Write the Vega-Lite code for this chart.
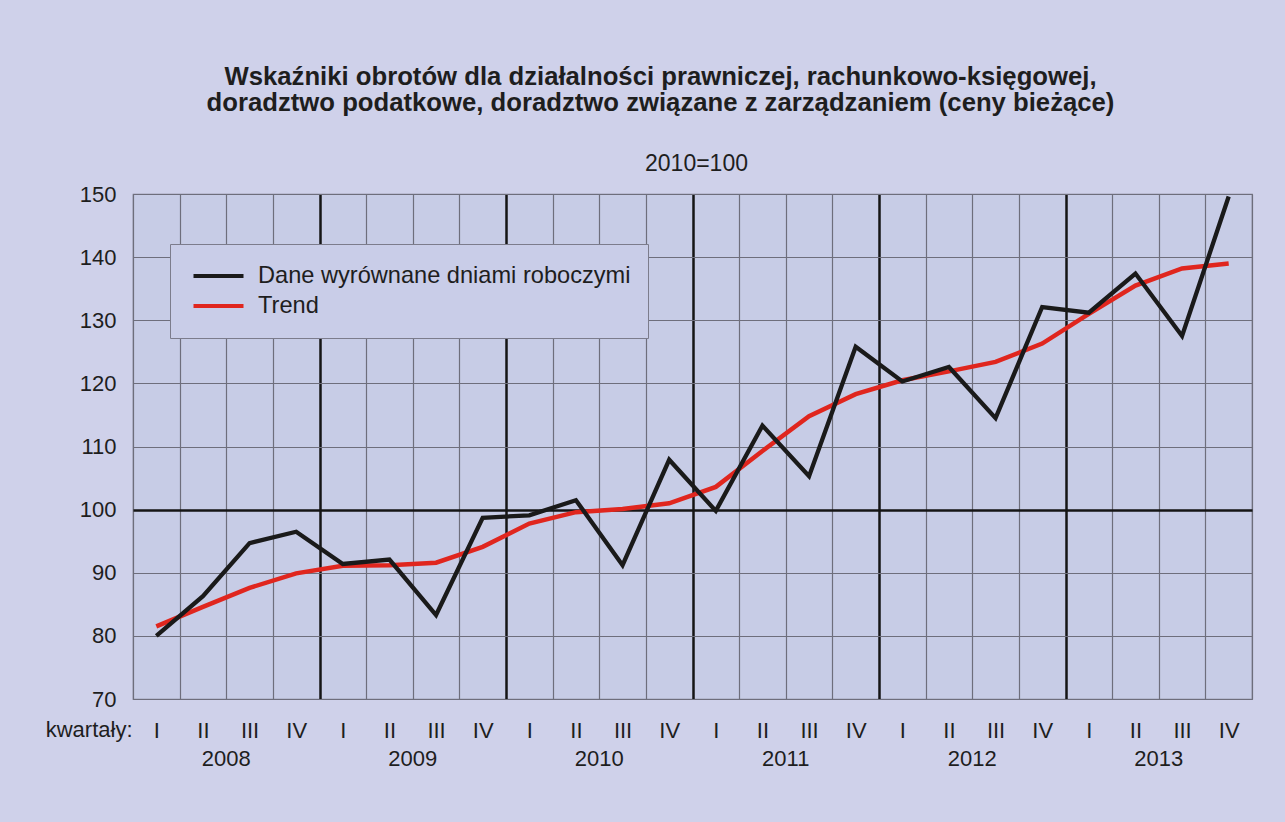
{
  "$schema": "https://vega.github.io/schema/vega-lite/v6.json",
  "width": 1119,
  "height": 505,
  "autosize": "none",
  "padding": {"left": 133, "top": 194, "right": 33, "bottom": 123},
  "background": "#cfd1ea",
  "title": {
    "text": ["Wskaźniki obrotów dla działalności prawniczej, rachunkowo-księgowej,", "doradztwo podatkowe, doradztwo związane z zarządzaniem (ceny bieżące)"],
    "font": "Liberation Sans",
    "fontSize": 25.7,
    "fontWeight": "bold",
    "color": "#1e1e1e",
    "lineHeight": 26,
    "anchor": "middle",
    "dx": -32,
    "offset": 35
  },
  "config": {
    "view": {"fill": "#c7cce6", "stroke": "#7c7c8c", "strokeWidth": 1.2},
    "axis": {"labelFont": "Liberation Sans", "titleFont": "Liberation Sans", "labelColor": "#1e1e1e", "titleColor": "#1e1e1e"}
  },
  "data": {
    "values": [
      {"okres": "2008 I", "seria": "Trend", "wartosc": 81.5},
      {"okres": "2008 II", "seria": "Trend", "wartosc": 84.6},
      {"okres": "2008 III", "seria": "Trend", "wartosc": 87.6},
      {"okres": "2008 IV", "seria": "Trend", "wartosc": 89.9},
      {"okres": "2009 I", "seria": "Trend", "wartosc": 91.1},
      {"okres": "2009 II", "seria": "Trend", "wartosc": 91.2},
      {"okres": "2009 III", "seria": "Trend", "wartosc": 91.6},
      {"okres": "2009 IV", "seria": "Trend", "wartosc": 94.1},
      {"okres": "2010 I", "seria": "Trend", "wartosc": 97.8},
      {"okres": "2010 II", "seria": "Trend", "wartosc": 99.6},
      {"okres": "2010 III", "seria": "Trend", "wartosc": 100.1},
      {"okres": "2010 IV", "seria": "Trend", "wartosc": 101.0},
      {"okres": "2011 I", "seria": "Trend", "wartosc": 103.6},
      {"okres": "2011 II", "seria": "Trend", "wartosc": 109.3},
      {"okres": "2011 III", "seria": "Trend", "wartosc": 114.8},
      {"okres": "2011 IV", "seria": "Trend", "wartosc": 118.3},
      {"okres": "2012 I", "seria": "Trend", "wartosc": 120.5},
      {"okres": "2012 II", "seria": "Trend", "wartosc": 121.9},
      {"okres": "2012 III", "seria": "Trend", "wartosc": 123.4},
      {"okres": "2012 IV", "seria": "Trend", "wartosc": 126.3},
      {"okres": "2013 I", "seria": "Trend", "wartosc": 131.0},
      {"okres": "2013 II", "seria": "Trend", "wartosc": 135.5},
      {"okres": "2013 III", "seria": "Trend", "wartosc": 138.2},
      {"okres": "2013 IV", "seria": "Trend", "wartosc": 139.0},
      {"okres": "2008 I", "seria": "Dane wyrównane dniami roboczymi", "wartosc": 80.0},
      {"okres": "2008 II", "seria": "Dane wyrównane dniami roboczymi", "wartosc": 86.3},
      {"okres": "2008 III", "seria": "Dane wyrównane dniami roboczymi", "wartosc": 94.7},
      {"okres": "2008 IV", "seria": "Dane wyrównane dniami roboczymi", "wartosc": 96.5},
      {"okres": "2009 I", "seria": "Dane wyrównane dniami roboczymi", "wartosc": 91.4},
      {"okres": "2009 II", "seria": "Dane wyrównane dniami roboczymi", "wartosc": 92.1},
      {"okres": "2009 III", "seria": "Dane wyrównane dniami roboczymi", "wartosc": 83.3},
      {"okres": "2009 IV", "seria": "Dane wyrównane dniami roboczymi", "wartosc": 98.7},
      {"okres": "2010 I", "seria": "Dane wyrównane dniami roboczymi", "wartosc": 99.1},
      {"okres": "2010 II", "seria": "Dane wyrównane dniami roboczymi", "wartosc": 101.5},
      {"okres": "2010 III", "seria": "Dane wyrównane dniami roboczymi", "wartosc": 91.2},
      {"okres": "2010 IV", "seria": "Dane wyrównane dniami roboczymi", "wartosc": 107.9},
      {"okres": "2011 I", "seria": "Dane wyrównane dniami roboczymi", "wartosc": 99.8},
      {"okres": "2011 II", "seria": "Dane wyrównane dniami roboczymi", "wartosc": 113.3},
      {"okres": "2011 III", "seria": "Dane wyrównane dniami roboczymi", "wartosc": 105.3},
      {"okres": "2011 IV", "seria": "Dane wyrównane dniami roboczymi", "wartosc": 125.8},
      {"okres": "2012 I", "seria": "Dane wyrównane dniami roboczymi", "wartosc": 120.3},
      {"okres": "2012 II", "seria": "Dane wyrównane dniami roboczymi", "wartosc": 122.6},
      {"okres": "2012 III", "seria": "Dane wyrównane dniami roboczymi", "wartosc": 114.5},
      {"okres": "2012 IV", "seria": "Dane wyrównane dniami roboczymi", "wartosc": 132.1},
      {"okres": "2013 I", "seria": "Dane wyrównane dniami roboczymi", "wartosc": 131.2},
      {"okres": "2013 II", "seria": "Dane wyrównane dniami roboczymi", "wartosc": 137.4},
      {"okres": "2013 III", "seria": "Dane wyrównane dniami roboczymi", "wartosc": 127.5},
      {"okres": "2013 IV", "seria": "Dane wyrównane dniami roboczymi", "wartosc": 149.6}
    ]
  },
  "encoding": {
    "y": {
      "field": "wartosc",
      "type": "quantitative",
      "scale": {"domain": [70, 150], "nice": false, "zero": false},
      "axis": {
        "values": [70, 80, 90, 100, 110, 120, 130, 140, 150],
        "domain": false,
        "ticks": false,
        "labelPadding": 17,
        "labelFontSize": 22,
        "gridColor": {"condition": {"test": "datum.value === 100", "value": "#151515"}, "value": "#6e6e7c"},
        "gridWidth": {"condition": {"test": "datum.value === 100", "value": 2.5}, "value": 1.2},
        "title": "2010=100",
        "titleAngle": 0,
        "titleX": 563,
        "titleY": -31,
        "titleAlign": "center",
        "titleBaseline": "middle",
        "titleFontSize": 23,
        "titleFontWeight": "normal"
      }
    },
    "color": {
      "field": "seria",
      "type": "nominal",
      "scale": {"domain": ["Dane wyrównane dniami roboczymi", "Trend"], "range": ["#1a1a1a", "#e0261e"]},
      "legend": {
        "orient": "none",
        "legendX": 37,
        "legendY": 50,
        "title": null,
        "symbolType": "stroke",
        "symbolSize": 2500,
        "symbolStrokeWidth": 4.2,
        "labelFont": "Liberation Sans",
        "labelFontSize": 23.6,
        "labelColor": "#1e1e1e",
        "labelLimit": 600,
        "fillColor": "#c9cde8",
        "strokeColor": "#7c7c8c",
        "padding": 17,
        "clipHeight": 30,
        "rowPadding": 0,
        "labelOffset": 12,
        "symbolOffset": 4
      }
    }
  },
  "layer": [
    {
      "transform": [{"filter": "datum.seria === 'Trend'"}],
      "mark": {"type": "line", "strokeWidth": 4.5},
      "encoding": {
        "x": {
          "field": "okres",
          "type": "ordinal",
          "sort": null,
          "scale": {"paddingInner": 0, "paddingOuter": 0},
          "axis": {
            "orient": "bottom",
            "tickBand": "extent",
            "grid": true,
            "domain": false,
            "ticks": false,
            "labelAngle": 0,
            "labelOverlap": false,
            "labelFontSize": 22,
            "labelPadding": 21,
            "labelExpr": "split(datum.value, ' ')[1]",
            "gridColor": {"condition": {"test": "datum.value !== '2013 IV' && test(/ IV$/, datum.value)", "value": "#151515"}, "value": "#6e6e7c"},
            "gridWidth": {"condition": {"test": "datum.value !== '2013 IV' && test(/ IV$/, datum.value)", "value": 2.5}, "value": 1.2},
            "title": "kwartały:",
            "titleFontSize": 22,
            "titleFontWeight": "normal",
            "titleX": -1,
            "titleY": 30,
            "titleAlign": "right",
            "titleBaseline": "middle",
            "titleAnchor": null
          }
        }
      }
    },
    {
      "transform": [{"filter": "datum.seria !== 'Trend'"}],
      "mark": {"type": "line", "strokeWidth": 4.3},
      "encoding": {
        "x": {
          "field": "okres",
          "type": "ordinal",
          "sort": null,
          "axis": {
            "orient": "bottom",
            "grid": false,
            "domain": false,
            "ticks": false,
            "labelAngle": 0,
            "labelOverlap": false,
            "labelFontSize": 22,
            "labelPadding": 49,
            "labelOffset": 23.3,
            "labelExpr": "test(/ II$/, datum.value) ? split(datum.value, ' ')[0] : ''",
            "title": null
          }
        }
      }
    }
  ],
  "resolve": {"axis": {"x": "independent"}}
}
